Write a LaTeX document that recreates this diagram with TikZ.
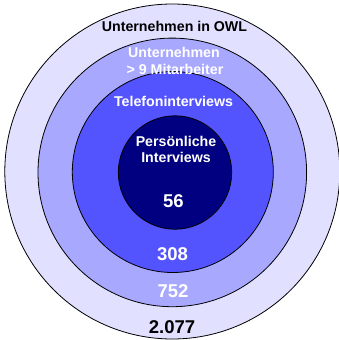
\documentclass[tikz,border=0pt]{standalone}
\usepackage{fontspec}
\setmainfont{Liberation Sans}
\definecolor{ringA}{HTML}{E1E1FF}
\definecolor{ringB}{HTML}{A8A8FF}
\definecolor{ringC}{HTML}{5454FF}
\definecolor{ringD}{HTML}{000080}
\begin{document}
\begin{tikzpicture}[x=1pt,y=-1pt,
  ring/.style={circle,draw=black,line width=0.8pt,inner sep=0pt},
  lbl/.style={anchor=base,inner sep=0pt,font=\fontsize{14.2}{17}\selectfont\bfseries},
  num/.style={anchor=base,inner sep=0pt,font=\fontsize{18.5}{22}\selectfont\bfseries}]
\useasboundingbox (0,0) rectangle (339,340);
\fill[white] (0,0) rectangle (339,340);
\clip (0,0) rectangle (339,340);
\node[ring,fill=ringA,minimum size=335pt] (c1) at (172.3,171.5) {};
\node[ring,fill=ringB,minimum size=268.6pt] (c2) at (172.3,172.4) {};
\node[ring,fill=ringC,minimum size=201pt] (c3) at (172.8,172) {};
\node[ring,fill=ringD,minimum size=113.4pt] (c4) at (175,172.5) {};
\node[lbl,text=black] (t1) at (174.5,31.5) {Unternehmen in OWL};
\node[lbl,text=white] (t2a) at (174,57.3) {Unternehmen};
\node[lbl,text=white] (t2b) at (175,74) {> 9 Mitarbeiter};
\node[lbl,text=white] (t3) at (173.5,106.8) {Telefoninterviews};
\node[lbl,text=white] (t4a) at (176,146) {Persönliche};
\node[lbl,text=white] (t4b) at (176,162.7) {Interviews};
\node[num,text=white] (n4) at (173.5,207.7) {56};
\node[num,text=white] (n3) at (172.5,260) {308};
\node[num,text=white] (n2) at (173,297.7) {752};
\node[num,text=black] (n1) at (172,333.3) {2.077};
\end{tikzpicture}
\end{document}
